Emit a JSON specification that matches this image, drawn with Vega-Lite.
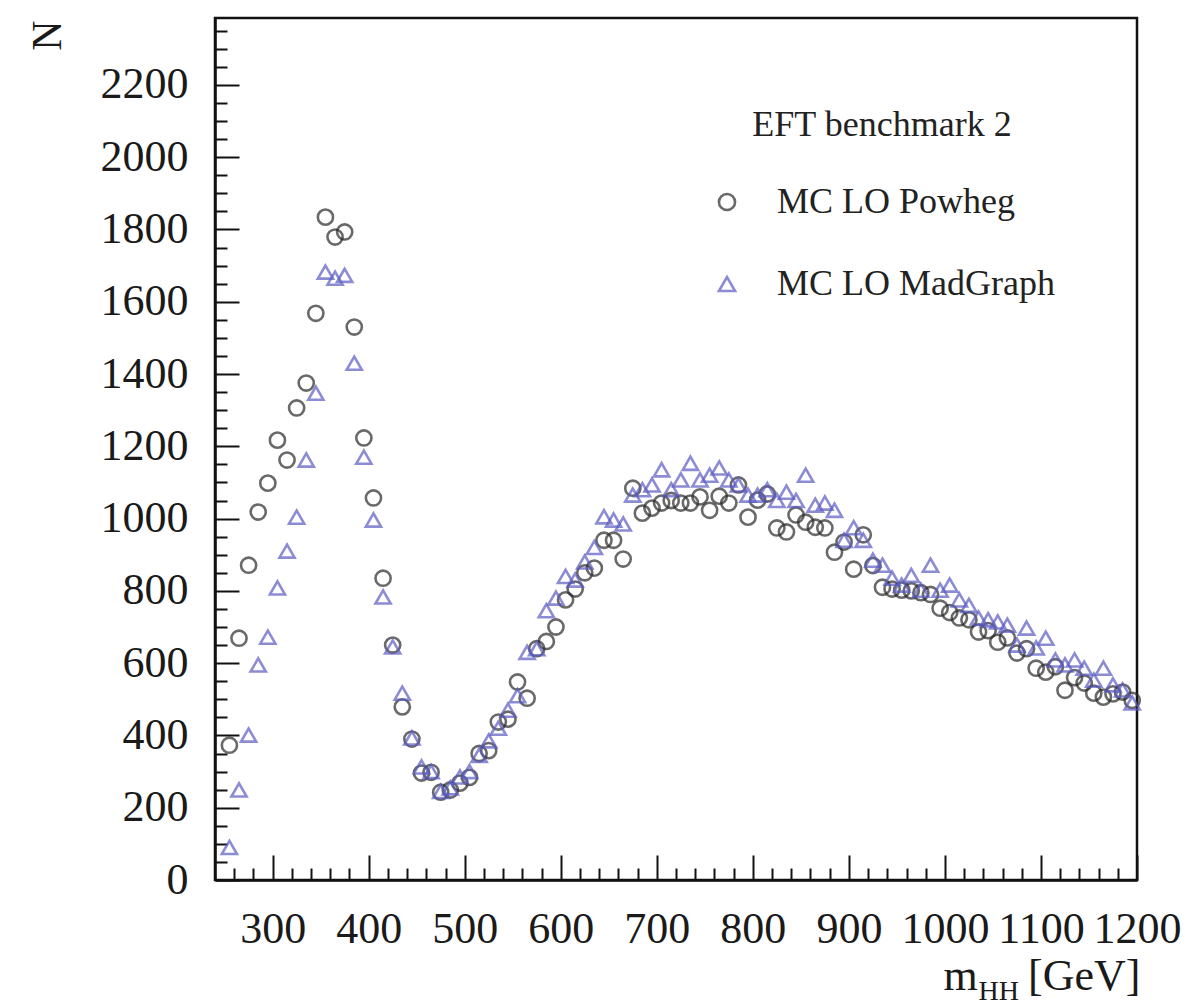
{
  "$schema": "https://vega.github.io/schema/vega-lite/v6.json",
  "autosize": "none",
  "width": 922,
  "height": 862,
  "padding": {"left": 215, "top": 18, "right": 51, "bottom": 126},
  "background": "white",
  "config": {
    "view": {"stroke": "#111", "strokeWidth": 2.5},
    "font": "Liberation Serif"
  },
  "datasets": {
    "pts": [
      {"m":255,"N":373,"s":"MC LO Powheg"},{"m":265,"N":669,"s":"MC LO Powheg"},{"m":275,"N":871,"s":"MC LO Powheg"},{"m":285,"N":1018,"s":"MC LO Powheg"},{"m":295,"N":1098,"s":"MC LO Powheg"},{"m":305,"N":1217,"s":"MC LO Powheg"},{"m":315,"N":1162,"s":"MC LO Powheg"},{"m":325,"N":1306,"s":"MC LO Powheg"},{"m":335,"N":1375,"s":"MC LO Powheg"},{"m":345,"N":1568,"s":"MC LO Powheg"},
      {"m":355,"N":1834,"s":"MC LO Powheg"},{"m":365,"N":1779,"s":"MC LO Powheg"},{"m":375,"N":1793,"s":"MC LO Powheg"},{"m":385,"N":1530,"s":"MC LO Powheg"},{"m":395,"N":1223,"s":"MC LO Powheg"},{"m":405,"N":1057,"s":"MC LO Powheg"},{"m":415,"N":835,"s":"MC LO Powheg"},{"m":425,"N":650,"s":"MC LO Powheg"},{"m":435,"N":479,"s":"MC LO Powheg"},{"m":445,"N":390,"s":"MC LO Powheg"},
      {"m":455,"N":296,"s":"MC LO Powheg"},{"m":465,"N":298,"s":"MC LO Powheg"},{"m":475,"N":243,"s":"MC LO Powheg"},{"m":485,"N":249,"s":"MC LO Powheg"},{"m":495,"N":268,"s":"MC LO Powheg"},{"m":505,"N":284,"s":"MC LO Powheg"},{"m":515,"N":350,"s":"MC LO Powheg"},{"m":525,"N":358,"s":"MC LO Powheg"},{"m":535,"N":437,"s":"MC LO Powheg"},{"m":545,"N":445,"s":"MC LO Powheg"},
      {"m":555,"N":548,"s":"MC LO Powheg"},{"m":565,"N":503,"s":"MC LO Powheg"},{"m":575,"N":640,"s":"MC LO Powheg"},{"m":585,"N":660,"s":"MC LO Powheg"},{"m":595,"N":700,"s":"MC LO Powheg"},{"m":605,"N":775,"s":"MC LO Powheg"},{"m":615,"N":805,"s":"MC LO Powheg"},{"m":625,"N":850,"s":"MC LO Powheg"},{"m":635,"N":863,"s":"MC LO Powheg"},{"m":645,"N":940,"s":"MC LO Powheg"},
      {"m":655,"N":940,"s":"MC LO Powheg"},{"m":665,"N":888,"s":"MC LO Powheg"},{"m":675,"N":1084,"s":"MC LO Powheg"},{"m":685,"N":1015,"s":"MC LO Powheg"},{"m":695,"N":1029,"s":"MC LO Powheg"},{"m":705,"N":1043,"s":"MC LO Powheg"},{"m":715,"N":1050,"s":"MC LO Powheg"},{"m":725,"N":1043,"s":"MC LO Powheg"},{"m":735,"N":1043,"s":"MC LO Powheg"},{"m":745,"N":1060,"s":"MC LO Powheg"},
      {"m":755,"N":1023,"s":"MC LO Powheg"},{"m":765,"N":1062,"s":"MC LO Powheg"},{"m":775,"N":1043,"s":"MC LO Powheg"},{"m":785,"N":1093,"s":"MC LO Powheg"},{"m":795,"N":1004,"s":"MC LO Powheg"},{"m":805,"N":1051,"s":"MC LO Powheg"},{"m":815,"N":1068,"s":"MC LO Powheg"},{"m":825,"N":974,"s":"MC LO Powheg"},{"m":835,"N":963,"s":"MC LO Powheg"},{"m":845,"N":1010,"s":"MC LO Powheg"},
      {"m":855,"N":990,"s":"MC LO Powheg"},{"m":865,"N":976,"s":"MC LO Powheg"},{"m":875,"N":974,"s":"MC LO Powheg"},{"m":885,"N":907,"s":"MC LO Powheg"},{"m":895,"N":935,"s":"MC LO Powheg"},{"m":905,"N":860,"s":"MC LO Powheg"},{"m":915,"N":955,"s":"MC LO Powheg"},{"m":925,"N":870,"s":"MC LO Powheg"},{"m":935,"N":810,"s":"MC LO Powheg"},{"m":945,"N":805,"s":"MC LO Powheg"},
      {"m":955,"N":802,"s":"MC LO Powheg"},{"m":965,"N":800,"s":"MC LO Powheg"},{"m":975,"N":795,"s":"MC LO Powheg"},{"m":985,"N":790,"s":"MC LO Powheg"},{"m":995,"N":752,"s":"MC LO Powheg"},{"m":1005,"N":740,"s":"MC LO Powheg"},{"m":1015,"N":725,"s":"MC LO Powheg"},{"m":1025,"N":720,"s":"MC LO Powheg"},{"m":1035,"N":686,"s":"MC LO Powheg"},{"m":1045,"N":690,"s":"MC LO Powheg"},
      {"m":1055,"N":658,"s":"MC LO Powheg"},{"m":1065,"N":670,"s":"MC LO Powheg"},{"m":1075,"N":628,"s":"MC LO Powheg"},{"m":1085,"N":640,"s":"MC LO Powheg"},{"m":1095,"N":586,"s":"MC LO Powheg"},{"m":1105,"N":575,"s":"MC LO Powheg"},{"m":1115,"N":590,"s":"MC LO Powheg"},{"m":1125,"N":525,"s":"MC LO Powheg"},{"m":1135,"N":560,"s":"MC LO Powheg"},{"m":1145,"N":545,"s":"MC LO Powheg"},
      {"m":1155,"N":517,"s":"MC LO Powheg"},{"m":1165,"N":506,"s":"MC LO Powheg"},{"m":1175,"N":515,"s":"MC LO Powheg"},{"m":1185,"N":520,"s":"MC LO Powheg"},{"m":1195,"N":497,"s":"MC LO Powheg"},
      {"m":255,"N":90,"s":"MC LO MadGraph"},{"m":265,"N":249,"s":"MC LO MadGraph"},{"m":275,"N":401,"s":"MC LO MadGraph"},{"m":285,"N":595,"s":"MC LO MadGraph"},{"m":295,"N":672,"s":"MC LO MadGraph"},{"m":305,"N":808,"s":"MC LO MadGraph"},{"m":315,"N":910,"s":"MC LO MadGraph"},{"m":325,"N":1004,"s":"MC LO MadGraph"},{"m":335,"N":1162,"s":"MC LO MadGraph"},{"m":345,"N":1347,"s":"MC LO MadGraph"},
      {"m":355,"N":1682,"s":"MC LO MadGraph"},{"m":365,"N":1665,"s":"MC LO MadGraph"},{"m":375,"N":1673,"s":"MC LO MadGraph"},{"m":385,"N":1430,"s":"MC LO MadGraph"},{"m":395,"N":1170,"s":"MC LO MadGraph"},{"m":405,"N":996,"s":"MC LO MadGraph"},{"m":415,"N":783,"s":"MC LO MadGraph"},{"m":425,"N":645,"s":"MC LO MadGraph"},{"m":435,"N":517,"s":"MC LO MadGraph"},{"m":445,"N":393,"s":"MC LO MadGraph"},
      {"m":455,"N":313,"s":"MC LO MadGraph"},{"m":465,"N":300,"s":"MC LO MadGraph"},{"m":475,"N":245,"s":"MC LO MadGraph"},{"m":485,"N":255,"s":"MC LO MadGraph"},{"m":495,"N":285,"s":"MC LO MadGraph"},{"m":505,"N":300,"s":"MC LO MadGraph"},{"m":515,"N":345,"s":"MC LO MadGraph"},{"m":525,"N":385,"s":"MC LO MadGraph"},{"m":535,"N":420,"s":"MC LO MadGraph"},{"m":545,"N":470,"s":"MC LO MadGraph"},
      {"m":555,"N":510,"s":"MC LO MadGraph"},{"m":565,"N":630,"s":"MC LO MadGraph"},{"m":575,"N":640,"s":"MC LO MadGraph"},{"m":585,"N":745,"s":"MC LO MadGraph"},{"m":595,"N":780,"s":"MC LO MadGraph"},{"m":605,"N":840,"s":"MC LO MadGraph"},{"m":615,"N":830,"s":"MC LO MadGraph"},{"m":625,"N":880,"s":"MC LO MadGraph"},{"m":635,"N":920,"s":"MC LO MadGraph"},{"m":645,"N":1005,"s":"MC LO MadGraph"},
      {"m":655,"N":996,"s":"MC LO MadGraph"},{"m":665,"N":985,"s":"MC LO MadGraph"},{"m":675,"N":1065,"s":"MC LO MadGraph"},{"m":685,"N":1080,"s":"MC LO MadGraph"},{"m":695,"N":1093,"s":"MC LO MadGraph"},{"m":705,"N":1135,"s":"MC LO MadGraph"},{"m":715,"N":1080,"s":"MC LO MadGraph"},{"m":725,"N":1107,"s":"MC LO MadGraph"},{"m":735,"N":1153,"s":"MC LO MadGraph"},{"m":745,"N":1107,"s":"MC LO MadGraph"},
      {"m":755,"N":1120,"s":"MC LO MadGraph"},{"m":765,"N":1140,"s":"MC LO MadGraph"},{"m":775,"N":1107,"s":"MC LO MadGraph"},{"m":785,"N":1093,"s":"MC LO MadGraph"},{"m":795,"N":1065,"s":"MC LO MadGraph"},{"m":805,"N":1065,"s":"MC LO MadGraph"},{"m":815,"N":1080,"s":"MC LO MadGraph"},{"m":825,"N":1050,"s":"MC LO MadGraph"},{"m":835,"N":1073,"s":"MC LO MadGraph"},{"m":845,"N":1050,"s":"MC LO MadGraph"},
      {"m":855,"N":1120,"s":"MC LO MadGraph"},{"m":865,"N":1037,"s":"MC LO MadGraph"},{"m":875,"N":1043,"s":"MC LO MadGraph"},{"m":885,"N":1023,"s":"MC LO MadGraph"},{"m":895,"N":940,"s":"MC LO MadGraph"},{"m":905,"N":975,"s":"MC LO MadGraph"},{"m":915,"N":940,"s":"MC LO MadGraph"},{"m":925,"N":885,"s":"MC LO MadGraph"},{"m":935,"N":871,"s":"MC LO MadGraph"},{"m":945,"N":835,"s":"MC LO MadGraph"},
      {"m":955,"N":816,"s":"MC LO MadGraph"},{"m":965,"N":843,"s":"MC LO MadGraph"},{"m":975,"N":802,"s":"MC LO MadGraph"},{"m":985,"N":871,"s":"MC LO MadGraph"},{"m":995,"N":802,"s":"MC LO MadGraph"},{"m":1005,"N":816,"s":"MC LO MadGraph"},{"m":1015,"N":775,"s":"MC LO MadGraph"},{"m":1025,"N":760,"s":"MC LO MadGraph"},{"m":1035,"N":725,"s":"MC LO MadGraph"},{"m":1045,"N":720,"s":"MC LO MadGraph"},
      {"m":1055,"N":714,"s":"MC LO MadGraph"},{"m":1065,"N":705,"s":"MC LO MadGraph"},{"m":1075,"N":650,"s":"MC LO MadGraph"},{"m":1085,"N":697,"s":"MC LO MadGraph"},{"m":1095,"N":642,"s":"MC LO MadGraph"},{"m":1105,"N":669,"s":"MC LO MadGraph"},{"m":1115,"N":609,"s":"MC LO MadGraph"},{"m":1125,"N":595,"s":"MC LO MadGraph"},{"m":1135,"N":609,"s":"MC LO MadGraph"},{"m":1145,"N":586,"s":"MC LO MadGraph"},
      {"m":1155,"N":553,"s":"MC LO MadGraph"},{"m":1165,"N":586,"s":"MC LO MadGraph"},{"m":1175,"N":540,"s":"MC LO MadGraph"},{"m":1185,"N":526,"s":"MC LO MadGraph"},{"m":1195,"N":490,"s":"MC LO MadGraph"}
    ]
  },
  "data": {"name": "pts"},
  "resolve": {"axis": {"x": "independent", "y": "independent"}},
  "layer": [
    {
      "mark": {"type": "point", "filled": false, "strokeWidth": 2.6, "size": 230},
      "encoding": {
        "x": {
          "field": "m", "type": "quantitative",
          "scale": {"domain": [240, 1200], "nice": false, "zero": false},
          "axis": {
            "orient": "bottom",
            "values": [260,280,300,320,340,360,380,400,420,440,460,480,500,520,540,560,580,600,620,640,660,680,700,720,740,760,780,800,820,840,860,880,900,920,940,960,980,1000,1020,1040,1060,1080,1100,1120,1140,1160,1180,1200],
            "labelExpr": "datum.value % 100 === 0 ? datum.value : ''",
            "tickSize": {"condition": {"test": "datum.value % 100 === 0", "value": -25}, "value": -12},
            "tickColor": "#111", "tickWidth": 2,
            "domainColor": "#111", "domainWidth": 2.5,
            "grid": false,
            "labelFont": "Liberation Serif", "labelFontSize": 44, "labelColor": "#1a1a1a",
            "labelPadding": 52, "labelOverlap": false, "labelFlush": false,
            "title": "m", "titleFont": "Liberation Serif", "titleFontSize": 44, "titleFontWeight": "normal",
            "titleColor": "#1a1a1a", "titleX": 745, "titleY": 109, "titleAlign": "center", "titleBaseline": "alphabetic"
          }
        },
        "y": {
          "field": "N", "type": "quantitative",
          "scale": {"domain": [0, 2385], "nice": false},
          "axis": {
            "orient": "left",
            "values": [0,50,100,150,200,250,300,350,400,450,500,550,600,650,700,750,800,850,900,950,1000,1050,1100,1150,1200,1250,1300,1350,1400,1450,1500,1550,1600,1650,1700,1750,1800,1850,1900,1950,2000,2050,2100,2150,2200,2250,2300,2350],
            "labelExpr": "datum.value % 200 === 0 ? datum.value : ''",
            "tickSize": {"condition": {"test": "datum.value % 200 === 0", "value": -24}, "value": -12},
            "tickColor": "#111", "tickWidth": 2,
            "domainColor": "#111", "domainWidth": 2.5,
            "grid": false,
            "labelFont": "Liberation Serif", "labelFontSize": 44, "labelColor": "#1a1a1a",
            "labelPadding": 51, "labelOverlap": false, "labelFlush": false,
            "title": "N", "titleFont": "Liberation Serif", "titleFontSize": 42, "titleFontWeight": "normal",
            "titleColor": "#1a1a1a", "titleAngle": 270, "titleX": -168, "titleY": 2, "titleAlign": "right", "titleBaseline": "middle"
          }
        },
        "color": {
          "field": "s", "type": "nominal",
          "scale": {"domain": ["MC LO Powheg", "MC LO MadGraph"], "range": ["#2b2b2b", "#5c5cc4"]},
          "legend": {
            "orient": "none", "legendX": 494, "legendY": 90,
            "title": "EFT benchmark 2", "titleAnchor": "middle", "titleAlign": "center",
            "titleFont": "Liberation Serif", "titleFontSize": 36, "titleFontWeight": "normal", "titleColor": "#222",
            "titleLimit": 1000, "titlePadding": 40,
            "labelFont": "Liberation Serif", "labelFontSize": 36, "labelColor": "#222", "labelLimit": 1000,
            "labelOffset": 32, "rowPadding": 46, "symbolSize": 260, "symbolStrokeWidth": 2.6, "padding": 0
          }
        },
        "shape": {
          "field": "s", "type": "nominal",
          "scale": {"domain": ["MC LO Powheg", "MC LO MadGraph"], "range": ["circle", "triangle-up"]}
        }
      }
    },
    {
      "mark": {"type": "point", "opacity": 0},
      "encoding": {
        "x": {
          "field": "m", "type": "quantitative",
          "axis": {
            "orient": "bottom", "ticks": false, "labels": false, "domain": false, "grid": false,
            "title": "HH", "titleFont": "Liberation Serif", "titleFontSize": 28, "titleFontWeight": "normal",
            "titleColor": "#1a1a1a", "titleX": 763, "titleY": 119, "titleAlign": "left", "titleBaseline": "alphabetic"
          }
        },
        "y": {
          "field": "N", "type": "quantitative",
          "axis": {
            "orient": "left", "ticks": false, "labels": false, "domain": false, "grid": false,
            "title": "[GeV]", "titleFont": "Liberation Serif", "titleFontSize": 44, "titleFontWeight": "normal",
            "titleColor": "#1a1a1a", "titleAngle": 0, "titleX": 925, "titleY": 971, "titleAlign": "right", "titleBaseline": "alphabetic"
          }
        }
      }
    }
  ]
}
